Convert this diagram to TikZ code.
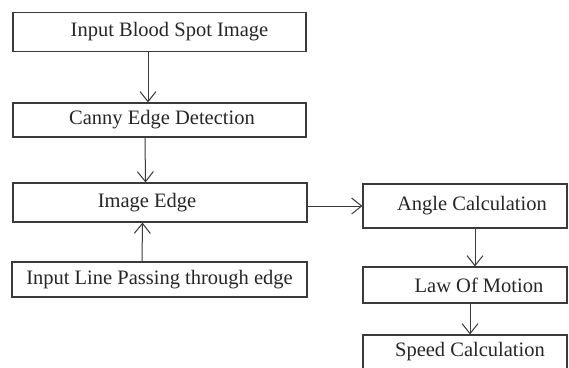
\documentclass[tikz,border=0pt]{standalone}
\usepackage{fontspec}
\setmainfont{Liberation Serif}
\usetikzlibrary{arrows.meta}
\definecolor{linec}{HTML}{3A3A3A}
\definecolor{textc}{HTML}{262626}
\begin{document}
\begin{tikzpicture}[x=1pt,y=-1pt,
  box/.style={draw=linec, line width=1.2pt, fill=white, inner sep=0pt,
    text=textc, font=\fontsize{20.5}{24}\selectfont},
  arr/.style={draw=linec, line width=1pt, -{Straight Barb[length=10pt,width=16pt,line width=1pt]}}]
\useasboundingbox (0,0) rectangle (569,367);
\fill[white] (0,0) rectangle (569,367);
\begin{scope}
\clip (0,0) rectangle (569,367);
\node[box, minimum width=293pt, minimum height=39pt] (b1) at (159.5,32) {\hspace*{20pt}Input Blood Spot Image};
\node[box, minimum width=293pt, minimum height=34pt] (b2) at (159.5,120) {\hspace*{5pt}Canny Edge Detection};
\node[box, minimum width=294pt, minimum height=39pt] (b3) at (160,202.5) {Image Edge\hspace*{26pt}};
\node[box, minimum width=295pt, minimum height=35pt] (b4) at (159.5,279.5) {Input Line Passing through edge};
\node[box, minimum width=204pt, minimum height=44pt] (a) at (465,206) {\hspace*{14pt}Angle Calculation};
\node[box, minimum width=204pt, minimum height=36pt] (l) at (465,285) {\hspace*{28pt}Law Of Motion};
\node[box, minimum width=204pt, minimum height=34pt] (s) at (465,352) {\hspace*{10pt}Speed Calculation};
\end{scope}
\draw[arr] ([xshift=-11.5pt]b1.south) -- ([xshift=-11.5pt]b2.north);
\draw[arr] ([xshift=-14.5pt]b2.south) -- ([xshift=-14.5pt]b3.north);
\draw[arr] ([xshift=-17.5pt]b4.north) -- ([xshift=-17.5pt]b3.south);
\draw[arr] (b3.east |- a.west) -- (a.west);
\draw[arr] ([xshift=10pt]a.south) -- ([xshift=10pt]l.north);
\draw[arr] ([xshift=5pt]l.south) -- ([xshift=5pt]s.north);
\end{tikzpicture}
\end{document}
